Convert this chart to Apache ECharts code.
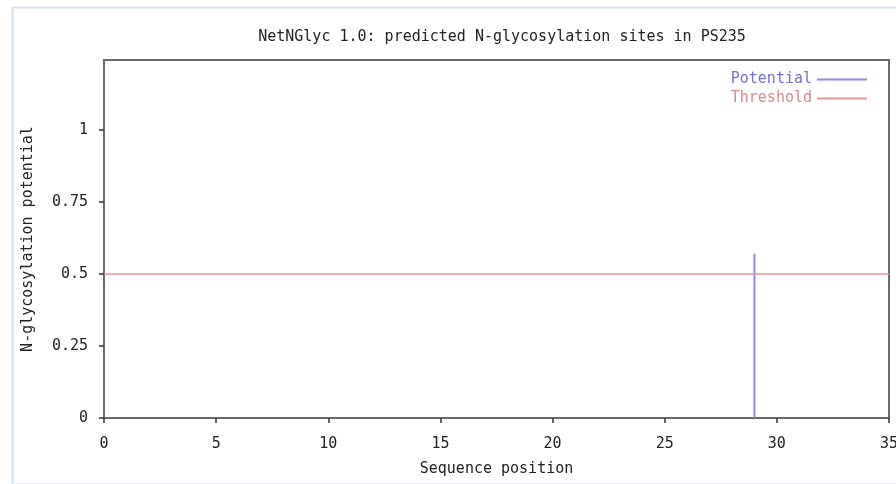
<!DOCTYPE html>
<html>
<head>
<meta charset="utf-8">
<script src="https://cdn.jsdelivr.net/npm/echarts@6/dist/echarts.min.js"></script>
<style>
  html, body { margin: 0; padding: 0; background: #fff; }
  #chart { width: 896px; height: 484px; }
</style>
</head>
<body>
<div id="chart"></div>
<script>
// data
const seqLength = 35;
const sitePositions = [29];
const sitePotentials = [0.57];
const threshold = 0.5;
const yTicks = [0, 0.25, 0.5, 0.75, 1];

const font = "DejaVu Sans Mono";
const axisColor = "#6a6a6a";
const blue = "#8c8ce6";
const red = "#e09595";

let myChart = echarts.init(document.getElementById("chart"));

let option = {
  backgroundColor: "#fff",
  animation: false,
  graphic: [
    {
      type: "rect",
      left: 10,
      top: 5,
      shape: { width: 900, height: 477 },
      style: { fill: "none", stroke: "#cfe0f2", lineWidth: 2 },
      z: -1,
    },
  ],
  title: {
    text: "NetNGlyc 1.0: predicted N-glycosylation sites in PS235",
    left: 497,
    textAlign: "center",
    top: 25,
    textStyle: { fontFamily: font, fontSize: 15, fontWeight: "normal", color: "#222" },
  },
  legend: {
    orient: "vertical",
    right: 24,
    top: 67,
    align: "right",
    icon: "rect",
    itemWidth: 50,
    itemHeight: 2,
    itemGap: 4,
    textStyle: { fontFamily: font, fontSize: 15 },
    data: [
      { name: "Potential", textStyle: { color: "#7272cc" } },
      { name: "Threshold", textStyle: { color: "#d88a8a" } },
    ],
  },
  grid: {
    left: 104,
    right: 7,
    top: 60,
    bottom: 66,
    outerBoundsMode: "none",
    show: true,
    borderColor: axisColor,
    borderWidth: 2,
  },
  xAxis: {
    type: "value",
    min: 0,
    max: seqLength,
    interval: 5,
    name: "Sequence position",
    nameLocation: "middle",
    nameGap: 44,
    nameMoveOverlap: false,
    nameTextStyle: { fontFamily: font, fontSize: 15, color: "#222" },
    axisLine: { show: true, lineStyle: { color: axisColor, width: 2 } },
    axisTick: { show: true, length: 5, lineStyle: { color: "#333", width: 1.5 } },
    axisLabel: { fontFamily: font, fontSize: 15, color: "#222", margin: 19 },
    splitLine: { show: false },
  },
  yAxis: {
    type: "value",
    min: 0,
    max: 1.243,
    interval: 0.25,
    name: "N-glycosylation potential",
    nameLocation: "middle",
    nameGap: 68,
    nameMoveOverlap: false,
    nameTextStyle: { fontFamily: font, fontSize: 15, color: "#222" },
    axisLine: { show: true, lineStyle: { color: axisColor, width: 2 } },
    axisTick: { show: true, length: 5, lineStyle: { color: "#333", width: 1.5 } },
    axisLabel: {
      fontFamily: font,
      fontSize: 15,
      color: "#222",
      margin: 16,
      showMaxLabel: false,
      formatter: function (v) {
        return yTicks.indexOf(v) >= 0 ? String(v) : "";
      },
    },
    splitLine: { show: false },
  },
  series: [
    {
      name: "Potential",
      type: "bar",
      barWidth: 2,
      itemStyle: { color: blue },
      data: sitePositions.map((p, i) => [p, sitePotentials[i]]),
    },
    {
      name: "Threshold",
      type: "line",
      symbol: "none",
      lineStyle: { color: red, width: 1.5 },
      itemStyle: { color: red },
      data: [[0, threshold], [seqLength, threshold]],
    },
  ],
};

myChart.setOption(option);
</script>
</body>
</html>
